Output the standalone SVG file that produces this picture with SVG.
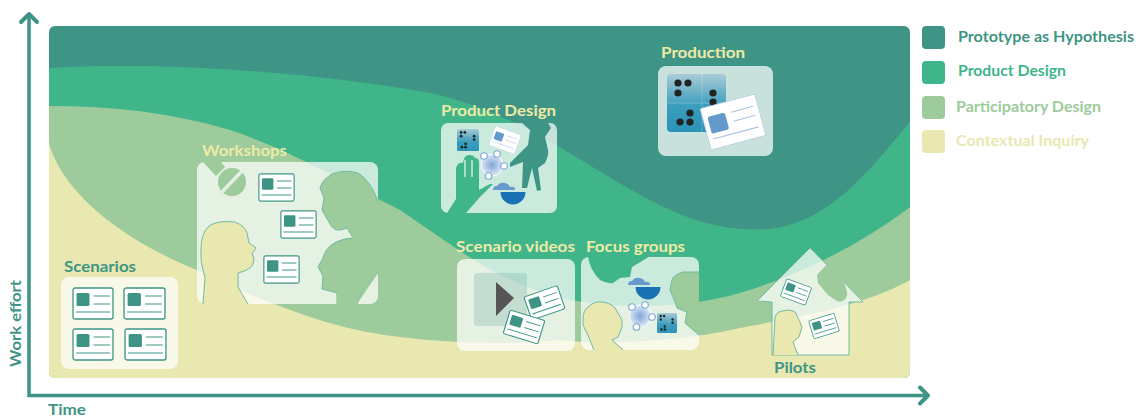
<svg xmlns="http://www.w3.org/2000/svg" width="1138" height="418" viewBox="0 0 1138 418">
<style>
text{font-family:Lato,"Open Sans","Liberation Sans",sans-serif;font-weight:700;font-size:15px}
.pale{fill:#eeeaa6}.teal{fill:#3f9585}
.panel{fill:#fff;fill-opacity:.72}
.sil{stroke:#6fbc9f;stroke-width:1;stroke-linejoin:round}
.fy{fill:#e8e8b0}.fp{fill:#9dcb9c}.fg{fill:#40b58a}.fd{fill:#3f9585}
.axis{fill:none;stroke:#3f9585;stroke-width:3.5}
.tc{color:#3f9585}
</style>
<defs>
<clipPath id="bgclip"><rect x="49" y="26" width="861" height="352" rx="6"/></clipPath>
<marker id="chev" markerUnits="userSpaceOnUse" markerWidth="20" markerHeight="24" refX="11" refY="12" orient="auto-start-reverse"><path d="M3,4 L11,12 L3,20" fill="none" stroke="#3f9585" stroke-width="4" stroke-linecap="round" stroke-linejoin="round"/></marker>
<linearGradient id="tileg" x1="0" y1="0" x2="0" y2="1"><stop offset="0" stop-color="#a9ccd6"/><stop offset=".55" stop-color="#3b9dbd"/><stop offset="1" stop-color="#2a93b8"/></linearGradient>
<radialGradient id="nodeg"><stop offset="0" stop-color="#7fa6d8"/><stop offset="1" stop-color="#dfe8f5"/></radialGradient>
<symbol id="card" viewBox="0 0 42 33" preserveAspectRatio="none">
<rect x="1" y="1" width="40" height="31" rx="2" fill="#fff" stroke="currentColor" stroke-width="1.3"/>
<rect x="4.5" y="6" width="13" height="13" rx="1.5" fill="currentColor"/>
<path d="M21.5,9H38M21.5,17H38M4,25H38" fill="none" stroke="currentColor" stroke-width="1.2"/>
</symbol>
<symbol id="cardb" viewBox="0 0 42 33" preserveAspectRatio="none">
<rect x=".5" y=".5" width="41" height="32" rx="1" fill="#fff" stroke="#b9cde8" stroke-width=".7"/>
<rect x="4" y="8" width="13" height="13" rx="1.5" fill="#6499cc"/>
<path d="M21.5,9H38M21.5,16H38M4,25H38" fill="none" stroke="#a9c2e2" stroke-width=".8"/>
</symbol>
<symbol id="tile" viewBox="0 0 59 58" preserveAspectRatio="none">
<rect width="59" height="58" rx="4" fill="url(#tileg)"/>
<path d="M35,0V58M0,29H59" stroke="#fff" stroke-opacity=".3" stroke-width=".8"/>
<g fill="#222"><circle cx="11" cy="9" r="3.6"/><circle cx="21" cy="9" r="3.6"/><circle cx="11" cy="19" r="3.6"/><circle cx="46" cy="19" r="3.6"/><circle cx="46" cy="28" r="3.6"/><circle cx="23" cy="39" r="3.6"/><circle cx="13" cy="48" r="3.6"/><circle cx="23" cy="48" r="3.6"/></g>
</symbol>
<g id="nodes">
<circle r="11" fill="url(#nodeg)" stroke="#fff" stroke-width=".8"/>
<g fill="#fff" stroke="#7aa3d6" stroke-width="1.1"><circle cx="-8" cy="-9" r="3.3"/><circle cx="5" cy="-11" r="3.3"/><circle cx="12" cy="1" r="3.3"/><circle cx="-3.500" cy="11" r="3.3"/></g>
</g>
<g id="bowl">
<path d="M-20,-2 Q-20,-6 -16,-6 Q-13,-10 -8,-9 Q-4,-8 -3,-5 Q2,-6 2,-2 Z" fill="#6699cc"/>
<path d="M-12.500,0 A12.500,12.500 0 0 0 12.500,0 Z" fill="#1a72b5"/>
</g>
</defs>
<g id="background" clip-path="url(#bgclip)">
<rect x="49" y="26" width="861" height="352" fill="#3f9585"/>
<path fill="#40b58a" d="M49,68 C150,62 300,70 430,93 C520,112 590,170 650,200 C690,222 730,232 770,229 C830,222 870,170 910,122 V378 H49 Z"/>
<path fill="#9dcb9c" d="M49,106 C110,106 170,112 230,130 C290,150 340,180 400,210 C460,250 500,285 570,300 C620,308 680,310 740,293 C800,275 860,245 910,207 V378 H49 Z"/>
<path fill="#e8e8b0" d="M49,143 C60,185 110,235 197,270 C260,300 330,330 400,337 C450,343 510,345 560,340 C600,345 680,342 740,328 C790,318 860,308 910,280 V378 H49 Z"/>
</g>
<g id="connectors"><path class="axis" d="M29,14 V395.500 H928" marker-start="url(#chev)" marker-end="url(#chev)"/></g>
<g id="scenarios">
<rect x="61" y="277" width="117" height="92" rx="8" class="panel"/>
<use href="#card" class="tc" x="72" y="287" width="42" height="33"/>
<use href="#card" class="tc" x="123" y="287" width="43" height="33"/>
<use href="#card" class="tc" x="72" y="328" width="42" height="33"/>
<use href="#card" class="tc" x="124" y="328" width="43" height="33"/>
<text class="teal" x="64" y="272" textLength="72" lengthAdjust="spacingAndGlyphs">Scenarios</text>
</g>
<g id="workshops">
<rect x="197" y="162" width="181" height="142" rx="8" class="panel"/>
<path class="fp" d="M203,162 L216,176 L225,167 L221,162 Z"/>
<circle class="fp" cx="232" cy="182" r="14"/>
<path d="M220,194 L242,171" stroke="#e3efdf" stroke-width="3.500"/>
<path class="sil fy" d="M203,304 L205,277 Q200,262 201,250 Q201,233 209,226 Q218,220 235,222 Q245,226 247,233 L249,243 L256,248 L252,254 L254,258 L253,264 Q250,270 238,273 L238,287 L248,304"/>
<path class="sil fp" d="M378,201 Q370,180 358,173 Q345,169 332,174 Q322,180 320,188 L324,198 L322,210 L326,217 L329,222 Q333,231 340,230 L347,228 L353,238 Q345,238 336,242 Q325,248 323,258 L318,267 L323,276 L322,289 L337,293 L337,304 M357,304 L362,290 L378,273"/>
<path class="fp" d="M378,201 L347,228 L353,238 L323,276 L337,293 L337,304 L357,304 L362,290 L378,273 Z"/>
<use href="#card" class="tc" x="258" y="173" width="37" height="29"/>
<use href="#card" class="tc" x="280" y="210" width="37" height="29"/>
<use href="#card" class="tc" x="263" y="255" width="37" height="29"/>
<text class="pale" x="202" y="156" textLength="85" lengthAdjust="spacingAndGlyphs">Workshops</text>
</g>
<g id="product-design">
<rect x="441" y="123" width="116" height="90" rx="7" class="panel"/>
<path class="fg" d="M447,213 L456,199 L456,168 Q458,162 463,163 Q464,155 469,155 Q474,155 475,158 Q479,158 479,163 L479,190 L490,184 L493,184 L480,197 L466,213 Z"/>
<path d="M465,160V177M472,160V177" stroke="#d3e8dd" stroke-width="1.500"/>
<path class="fd" d="M522,123 L530,130 L528,145 L510,163 L510,167 L523,162 L522,188 L527,188 L532,168 L537,191 L541,190 L538,168 L545,163 Q549,155 548,150 L545,137 L551,128 L548,123 Z"/>
<use href="#tile" x="457" y="129" width="22" height="22"/>
<use href="#cardb" x="491" y="129.500" width="28" height="21" transform="rotate(20 505 140)"/>
<use href="#nodes" x="492" y="165"/>
<use href="#bowl" x="513" y="192"/>
<text class="pale" x="441" y="116" textLength="115" lengthAdjust="spacingAndGlyphs">Product Design</text>
</g>
<g id="production">
<rect x="658" y="66" width="115" height="90" rx="8" class="panel"/>
<use href="#tile" x="667" y="74" width="59" height="58"/>
<use href="#cardb" x="704" y="100" width="58" height="44" transform="rotate(-15 733 122)"/>
<text class="pale" x="661" y="58" textLength="84" lengthAdjust="spacingAndGlyphs">Production</text>
</g>
<g id="scenario-videos">
<rect x="457" y="259" width="118" height="92" rx="8" class="panel"/>
<rect x="474" y="273" width="53" height="53" rx="3" fill="#3f9585" fill-opacity=".2"/>
<path d="M496,282 L514,298 L496,316 Z" fill="#555"/>
<use href="#card" class="tc" x="526" y="290" width="37" height="26" transform="rotate(-19 544 303)"/>
<use href="#card" class="tc" x="505" y="314" width="38" height="26" transform="rotate(17 524 327)"/>
<text class="pale" x="456" y="252" textLength="119" lengthAdjust="spacingAndGlyphs">Scenario videos</text>
</g>
<g id="focus-groups">
<rect x="581" y="257" width="118" height="93" rx="8" class="panel"/>
<path class="fg" d="M588,257 Q590,270 600,280 Q607,284 613,283 L620,278 L630,277 L632,267 L647,258 L648,257 Z"/>
<path class="sil fp" d="M699,272 L683,272 Q673,275 672,280 L670,290 L675,302 L677,308 L687,312 L685,323 L699,335"/>
<path class="sil fy" d="M594,350 L587,333 Q582,325 583,320 Q583,310 588,307 Q595,301 600,302 Q610,302 615,308 L622,320 L622,327 L618,337 L612,340 L623,350"/>
<use href="#bowl" x="648" y="287"/>
<use href="#nodes" x="640" y="316"/>
<use href="#tile" x="657" y="313" width="20" height="20"/>
<text class="pale" x="586" y="252" textLength="99" lengthAdjust="spacingAndGlyphs">Focus groups</text>
</g>
<g id="pilots">
<path class="panel" d="M810,248 L863,301 Q863,302 862,302 L849,302 L849,355 L772,355 L772,302 L758,302 Q757,302 757,301 Z"/>
<path class="sil" fill="none" d="M828,266 L810,248 L757,301 L772,302 L772,355 L849,355 L849,302 L863,302 L844,282"/>
<path class="fp" d="M828,263 L817,275 L818,283 L828,295 L834,299 Q840,304 844,300 Q848,297 847,292 L844,282 Z"/>
<path class="sil fy" d="M773,355 L775,318 Q776,312 782,311 Q790,309 795,312 L800,322 L802,327 L799,337 L793,342 L798,355"/>
<use href="#card" class="tc" x="782" y="282" width="28" height="20" transform="rotate(20 796 292)"/>
<use href="#card" class="tc" x="810" y="316" width="28" height="20" transform="rotate(-17 824 326)"/>
<text class="teal" x="774" y="373" textLength="42" lengthAdjust="spacingAndGlyphs">Pilots</text>
</g>
<g id="axis-labels">
<text class="teal" transform="translate(21 367) rotate(-90)" textLength="87" lengthAdjust="spacingAndGlyphs">Work effort</text>
<text class="teal" x="48" y="415" textLength="38" lengthAdjust="spacingAndGlyphs">Time</text>
</g>
<g id="legend">
<rect x="922" y="26" width="23" height="23" rx="4" fill="#3f9585"/>
<rect x="922" y="61" width="23" height="23" rx="4" fill="#40b58a"/>
<rect x="922" y="96" width="23" height="23" rx="4" fill="#9dcb9c"/>
<rect x="922" y="130" width="23" height="23" rx="4" fill="#e8e8b0"/>
<text x="958" y="42" fill="#3f9585" style="font-size:14.5px" textLength="176" lengthAdjust="spacingAndGlyphs">Prototype as Hypothesis</text>
<text x="958" y="76" fill="#40b58a" textLength="108" lengthAdjust="spacingAndGlyphs">Product Design</text>
<text x="956" y="112" fill="#9dcb9c" textLength="145" lengthAdjust="spacingAndGlyphs">Participatory Design</text>
<text x="956" y="146" fill="#e8e8b0" textLength="133" lengthAdjust="spacingAndGlyphs">Contextual Inquiry</text>
</g>
</svg>
